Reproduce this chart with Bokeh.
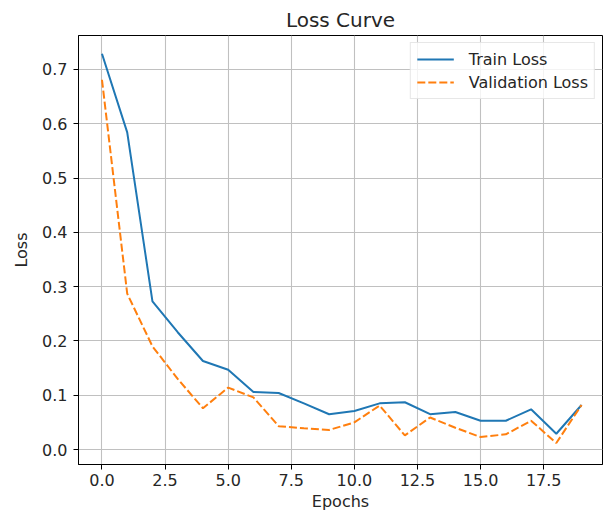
from bokeh.plotting import figure
from bokeh.models import FixedTicker, NumeralTickFormatter, Legend, LegendItem, Range1d
from bokeh.embed import file_html
from bokeh.resources import INLINE

epochs = list(range(20))
train_loss = [0.729, 0.584, 0.273, 0.216, 0.163, 0.147, 0.106, 0.104, 0.085, 0.065,
              0.071, 0.085, 0.087, 0.065, 0.069, 0.053, 0.053, 0.074, 0.029, 0.082]
val_loss = [0.681, 0.287, 0.190, 0.130, 0.076, 0.114, 0.096, 0.043, 0.039, 0.036,
            0.050, 0.081, 0.026, 0.059, 0.040, 0.023, 0.028, 0.053, 0.012, 0.082]
x_ticks = [0.0, 2.5, 5.0, 7.5, 10.0, 12.5, 15.0, 17.5]
y_ticks = [0.0, 0.1, 0.2, 0.3, 0.4, 0.5, 0.6, 0.7]

FONT = "DejaVu Sans"
TXT = "#262626"

p = figure(frame_width=524, frame_height=429, output_backend="svg", toolbar_location=None,
           min_border_left=78, min_border_right=2, min_border_top=35, min_border_bottom=49,
           x_range=Range1d(-0.93, 19.83), y_range=Range1d(-0.0276, 0.7625),
           title="Loss Curve")
p.title.align = "center"
p.title.text_font = FONT
p.title.text_font_size = "20px"
p.title.text_font_style = "normal"
p.title.text_color = TXT
p.title.standoff = 7

p.outline_line_color = "black"
p.outline_line_width = 1
p.background_fill_color = "white"

for ax in (p.xaxis, p.yaxis):
    ax.axis_line_color = "black"
    ax.major_tick_line_color = "black"
    ax.major_tick_out = 5
    ax.major_tick_in = 0
    ax.minor_tick_line_color = None
    ax.major_label_text_font = FONT
    ax.major_label_text_font_size = "16px"
    ax.major_label_text_color = TXT
    ax.axis_label_text_font = FONT
    ax.axis_label_text_font_size = "16px"
    ax.axis_label_text_font_style = "normal"
    ax.axis_label_text_color = TXT
    ax.formatter = NumeralTickFormatter(format="0.0")

p.xaxis.ticker = FixedTicker(ticks=x_ticks)
p.yaxis.ticker = FixedTicker(ticks=y_ticks)
p.xaxis.axis_label = "Epochs"
p.yaxis.axis_label = "Loss"
p.xaxis.major_label_standoff = 4
p.xaxis.axis_label_standoff = 3
p.yaxis.major_label_standoff = 6
p.yaxis.axis_label_standoff = 8

p.grid.grid_line_color = "#c0c0c0"
p.grid.grid_line_width = 1.1

r1 = p.line(epochs, train_loss, line_color="#1f77b4", line_width=2)
r2 = p.line(epochs, val_loss, line_color="#ff7f0e", line_width=2, line_dash="8 3")

legend = Legend(items=[LegendItem(label="Train Loss", renderers=[r1]),
                       LegendItem(label="Validation Loss", renderers=[r2])],
                location="top_right")
legend.label_text_font = FONT
legend.label_text_font_size = "16px"
legend.label_text_color = TXT
legend.border_line_color = "#d0d0d0"
legend.border_line_width = 1
legend.background_fill_alpha = 0.8
legend.glyph_width = 37
legend.glyph_height = 20
legend.label_height = 20
legend.label_standoff = 15
legend.spacing = 3
legend.padding = 6
legend.margin = 7
p.add_layout(legend)

open("out.html", "w").write(file_html(p, INLINE))
